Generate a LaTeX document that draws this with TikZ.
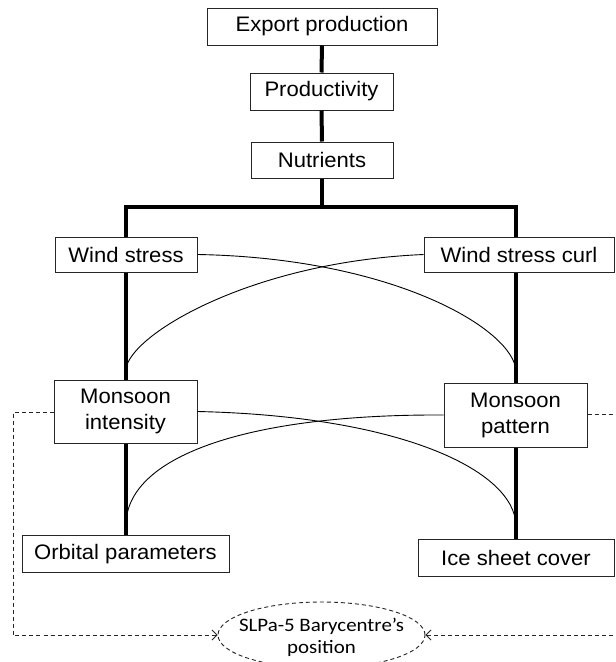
\documentclass[tikz,border=0pt]{standalone}
\usepackage{fontspec}
\setmainfont{Liberation Sans}[FakeStretch=1.05]
\newfontfamily\calib{Carlito}[FakeStretch=1.1]
\usetikzlibrary{shapes.geometric,arrows.meta}
\begin{document}
\begin{tikzpicture}[x=1pt,y=-1pt,
  box/.style={draw=black!85,line width=1pt,fill=white,inner sep=0pt,align=center,
    font=\fontsize{21}{26}\selectfont},
  thickline/.style={line width=4pt},
  thinline/.style={line width=0.9pt},
  dashline/.style={draw=black!85,line width=0.9pt,dash pattern=on 4pt off 3pt},
  tip/.style={-{Straight Barb[length=5pt,width=10pt,line width=0.9pt]}}]
\useasboundingbox (0,0) rectangle (616,662);
\fill[white] (0,0) rectangle (616,662);
\coordinate (bl) at (126,207);
\coordinate (br) at (516,207);
\node[box,minimum width=230pt,minimum height=37pt] (exp) at (322,26.5) {Export production};
\node[box,minimum width=143pt,minimum height=37pt] (prod) at (321.5,91.5) {Productivity};
\node[box,minimum width=142pt,minimum height=36pt] (nut) at (322,160) {Nutrients};
\node[box,minimum width=142pt,minimum height=35pt] (ws) at (126,254.5) {Wind stress};
\node[box,minimum width=190pt,minimum height=35pt] (wsc) at (519,254.5) {Wind stress curl};
\node[box,minimum width=143pt,minimum height=63pt] (mi) at (125.5,411.5) {Monsoon\\intensity};
\node[box,minimum width=143pt,minimum height=64pt] (mp) at (515.5,415) {Monsoon\\pattern};
\node[box,minimum width=207pt,minimum height=37pt] (op) at (125.5,554) {Orbital parameters};
\node[box,minimum width=196pt,minimum height=37pt] (isc) at (516,557.5) {Ice sheet cover};
\node[draw=black!85,line width=0.9pt,dash pattern=on 4pt off 3pt,ellipse,inner sep=0pt,
  minimum width=207pt,minimum height=66pt] (ell) at (321.5,635) {};
\node[align=center,inner sep=0pt,font=\calib\fontsize{19}{22}\selectfont] (elltxt) at (321.5,637) {SLPa-5 Barycentre’s\\position};
% trunk
\draw[thickline] (exp.south) -- (prod.north);
\draw[thickline] (prod.south) -- (nut.north);
\draw[thickline] (nut.south) -- (nut.south |- bl);
\draw[thickline,line join=miter] (bl |- ws.north) -- (bl) -- (br) -- (br |- wsc.north);
\draw[thickline] (bl |- ws.south) -- (bl |- mi.north);
\draw[thickline] (br |- wsc.south) -- (br |- mp.north);
\draw[thickline] (bl |- mi.south) -- (bl |- op.north);
\draw[thickline] (br |- mp.south) -- (br |- isc.north);
% crossing curves
\coordinate (e1) at (516,371);
\coordinate (e2) at (126,369);
\coordinate (e3) at (516,525);
\coordinate (e4) at (126,522);
\draw[thinline] (ws.east) .. controls (395,258) and (514,330) .. (e1);
\draw[thinline] (wsc.west) .. controls (250,262) and (130,335) .. (e2);
\draw[thinline] (mi.east) .. controls (400,416) and (514,470) .. (e3);
\draw[thinline] (mp.west) .. controls (250,414) and (130,455) .. (e4);
% dashed feedback
\coordinate (dl) at (13,412);
\coordinate (dr) at (619,414);
\draw[dashline,tip] (mi.west |- dl) -- (dl) |- (ell.west);
\draw[dashline,tip] (mp.east |- dr) -- (dr) |- (ell.east);
\end{tikzpicture}
\end{document}
